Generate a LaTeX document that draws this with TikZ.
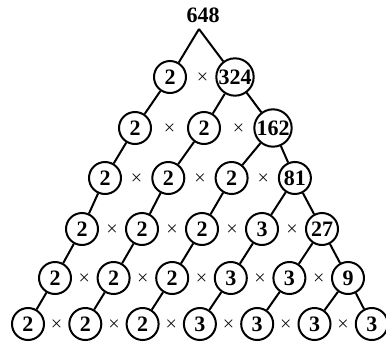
\documentclass[tikz,border=0pt]{standalone}
\usepackage{fontspec}
\setmainfont{Liberation Serif}
\usetikzlibrary{calc}

\begin{document}
\begin{tikzpicture}[
  x=1pt, y=-1pt,
  line width=2pt,
  num/.style={draw, circle, minimum size=32pt, inner sep=0.5pt,
              font=\fontsize{22}{26}\selectfont\bfseries},
  op/.style={font=\fontsize{15}{17}\selectfont\boldmath, inner sep=0pt},
]
\useasboundingbox (0,0) rectangle (386,346);

%─── Top number ──────────────────────────────────────────────────────────────
\node[font=\fontsize{22}{26}\selectfont\bfseries, inner sep=1pt] (top) at (203,15) {648};
\coordinate (apex) at (199,29);

%─── Factor rows: row/start x/spacing/y/last factor ─────────────────────────
\foreach \rw/\xs/\sp/\yr/\vl in {1/170/65/77/324, 2/135/69/128/162,
    3/105/63.3/178/81, 4/82/60/229/27, 5/55/58.6/278/9, 6/28/57.3/324/3} {
  \foreach \i in {0,...,\rw} {
    \ifnum\i=\rw \def\txt{\vl}\else\ifnum\i<3 \def\txt{2}\else\def\txt{3}\fi\fi
    \node[num] (n-\rw-\i) at ({\xs+\i*\sp},\yr) {\txt};
  }
  % multiplication signs
  \pgfmathtruncatemacro\lst{\rw-1}
  \foreach \i in {0,...,\lst} {
    \pgfmathtruncatemacro\nx{\i+1}
    \node[op] (x-\rw-\i) at ($(n-\rw-\i)!0.5!(n-\rw-\nx)$) {$\times$};
  }
}

%─── Branches ────────────────────────────────────────────────────────────────
\draw (apex) -- (n-1-0);
\draw (apex) -- (n-1-1);
\foreach \rw in {1,...,5} {
  \pgfmathtruncatemacro\nr{\rw+1}
  \foreach \i in {0,...,\rw} {
    \draw (n-\rw-\i) -- (n-\nr-\i);
  }
  \draw (n-\rw-\rw) -- (n-\nr-\nr);
}

\end{tikzpicture}
\end{document}
